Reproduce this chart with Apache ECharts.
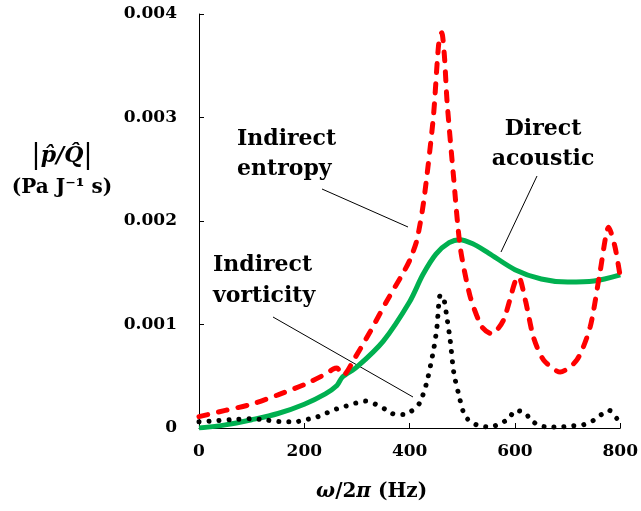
<!DOCTYPE html>
<html>
<head>
<meta charset="utf-8">
<script src="https://cdn.jsdelivr.net/npm/echarts@6/dist/echarts.min.js"></script>
<style>html,body{margin:0;padding:0;background:#fff;}#c{width:641px;height:511px;}</style>
</head>
<body>
<div id="c"></div>
<script>
// Indirect entropy (red dashed): [Hz, value]
const entropyHz  = [0,50,100,150,200,240,255,262,268,274,294,325,357,389,401,414,427,445,455,461,466,471,483,496,515,537,556,578,600,607,620,635,654,686,718,743,762,778,790,800];
const entropyVal = [0.00011,0.00017,0.00023,0.00032,0.00042,0.00052,0.00057,0.00058,0.00054,0.00051,0.00066,0.00093,0.00123,0.00151,0.00163,0.00182,0.0022,0.0030,0.0037,0.00382,0.0036,0.00316,0.00245,0.00175,0.00127,0.00098,0.00091,0.00104,0.00141,0.00146,0.00123,0.00088,0.00066,0.00054,0.00066,0.00098,0.00152,0.00194,0.00175,0.00146];
// Direct acoustic (green solid)
const acousticHz  = [0,50,100,150,200,240,262,272,300,350,400,425,450,475,495,520,550,600,650,700,750,800];
const acousticVal = [0,0.00003,0.00008,0.00014,0.00023,0.00033,0.00041,0.00049,0.00059,0.00084,0.00122,0.00148,0.00168,0.00179,0.00182,0.00178,0.00169,0.00153,0.00144,0.00141,0.00142,0.00148];
// Indirect vorticity (black dotted)
const vortHz  = [0,30,60,100,122,160,183,202,221,240,259,278,297,316,335,354,373,389,408,420,433,446,452,455,458,464,471,477,484,493,503,515,533,552,571,588,601,618,632,648,668,688,708,729,748,764,779,794,800];
const vortVal = [0.00006,0.00007,0.00008,0.00009,0.00008,0.00006,0.00006,0.00008,0.0001,0.00014,0.00018,0.00021,0.00024,0.00026,0.00023,0.00018,0.00013,0.00013,0.00018,0.00025,0.00045,0.00077,0.00098,0.00118,0.00128,0.00127,0.00106,0.00085,0.00053,0.00033,0.00014,0.00006,0.00002,0.00001,0.00004,0.00009,0.00017,0.00015,0.00007,0.00002,0.00001,0.00001,0.00002,0.00003,0.00007,0.00013,0.00017,0.00009,0.00006];

const xTicks = [0,200,400,600,800];
const yTicks = [0,0.001,0.002,0.003,0.004];

const FONT = '"DejaVu Serif", serif';
const zip = (a,b) => a.map((v,i)=>[v,b[i]]);

const chart = echarts.init(document.getElementById('c'), null, {renderer:'canvas'});
chart.setOption({
  animation: false,
  backgroundColor: '#fff',
  grid: {left: 199, right: 20, top: 14, bottom: 83, containLabel: false},
  xAxis: {
    type: 'value', min: xTicks[0], max: xTicks[xTicks.length-1], interval: 200,
    axisLine: {show: true, onZero: false, lineStyle: {color: '#000', width: 1}},
    axisTick: {show: true, inside: true, length: 5, lineStyle: {color: '#000'}},
    splitLine: {show: false},
    axisLabel: {color: '#000', fontFamily: FONT, fontWeight: 'bold', fontSize: 17, margin: 15},
    name: '{it|ω}{n|/2}{it|π}{n| (Hz)}',
    nameLocation: 'middle', nameGap: 54,
    nameTextStyle: {
      padding: [0, 76, 0, 0],
      rich: {
        it: {fontFamily: FONT, fontWeight: 'bold', fontStyle: 'italic', fontSize: 20, color: '#000'},
        n: {fontFamily: FONT, fontWeight: 'bold', fontSize: 20, color: '#000'}
      }
    }
  },
  yAxis: {
    type: 'value', min: yTicks[0], max: yTicks[yTicks.length-1], interval: 0.001,
    axisLine: {show: true, onZero: false, lineStyle: {color: '#000', width: 1}},
    axisTick: {show: true, inside: true, length: 5, lineStyle: {color: '#000'}},
    splitLine: {show: false},
    axisLabel: {color: '#000', fontFamily: FONT, fontWeight: 'bold', fontSize: 17, margin: 22,
      formatter: v => v === 0 ? '0' : v.toFixed(3)}
  },
  series: [
    {type: 'line', name: 'Direct acoustic', data: zip(acousticHz, acousticVal), symbol: 'none',
     smooth: 0.3, z: 2,
     lineStyle: {color: '#00B050', width: 5}},
    {type: 'line', name: 'Indirect entropy', data: zip(entropyHz, entropyVal), symbol: 'none',
     smooth: 0.25, z: 3,
     lineStyle: {color: '#FF0000', width: 5, type: [9, 11], cap: 'round'}},
    {type: 'line', name: 'Indirect vorticity', data: zip(vortHz, vortVal), symbol: 'none',
     smooth: 0.25, z: 4,
     lineStyle: {color: '#000', width: 5, type: [0.01, 10], cap: 'round'}}
  ],
  graphic: [
    {type: 'text', x: 62, y: 156, style: {
      text: '{b||}{i|p\u0302/Q\u0302}{b||}', textAlign: 'center', textVerticalAlign: 'middle',
      rich: {
        b: {font: '28px ' + FONT, fill: '#000'},
        i: {font: 'italic bold 22px ' + FONT, fill: '#000'}
      }}},
    {type: 'text', x: 62, y: 188, style: {
      text: '(Pa J\u207B\u00B9 s)', textAlign: 'center', textVerticalAlign: 'middle',
      font: 'bold 20px ' + FONT, fill: '#000'}},
    {type: 'text', x: 237, y: 124, style: {
      text: 'Indirect\nentropy', textAlign: 'left', textVerticalAlign: 'top', lineHeight: 30,
      font: 'bold 22px ' + FONT, fill: '#000'}},
    {type: 'text', x: 213, y: 250, style: {
      text: 'Indirect\nvorticity', textAlign: 'left', textVerticalAlign: 'top', lineHeight: 31,
      font: 'bold 22px ' + FONT, fill: '#000'}},
    {type: 'text', x: 543, y: 114, style: {
      text: 'Direct\nacoustic', textAlign: 'center', textVerticalAlign: 'top', lineHeight: 30,
      font: 'bold 22px ' + FONT, fill: '#000'}},
    {type: 'line', shape: {x1: 322, y1: 189, x2: 408, y2: 227}, style: {stroke: '#000', lineWidth: 1}},
    {type: 'line', shape: {x1: 273, y1: 317, x2: 413, y2: 397}, style: {stroke: '#000', lineWidth: 1}},
    {type: 'line', shape: {x1: 537, y1: 176, x2: 501, y2: 252}, style: {stroke: '#000', lineWidth: 1}}
  ]
});
</script>
</body>
</html>
